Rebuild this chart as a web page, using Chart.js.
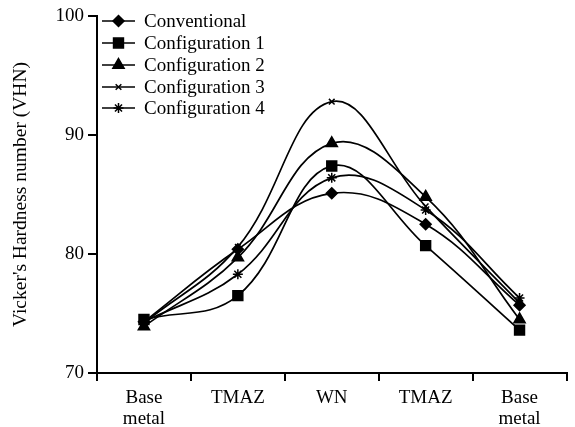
<!DOCTYPE html>
<html>
<head>
<meta charset="utf-8">
<script src="https://cdn.jsdelivr.net/npm/chart.js@4/dist/chart.umd.min.js"></script>
<style>
  html, body { margin: 0; padding: 0; background: #fff; }
  #wrap { width: 575px; height: 427px; position: relative; }
</style>
</head>
<body>
<div id="wrap"><canvas id="chart"></canvas></div>
<script>
const categories = [["Base", "metal"], "TMAZ", "WN", "TMAZ", ["Base", "metal"]];
const seriesNames = ["Conventional", "Configuration 1", "Configuration 2", "Configuration 3", "Configuration 4"];
const conventional = [74.3, 80.4, 85.1, 82.5, 75.7];
const config1 = [74.5, 76.5, 87.4, 80.7, 73.6];
const config2 = [73.9, 79.7, 89.3, 84.8, 74.5];
const config3 = [74.2, 80.6, 92.8, 84.0, 75.9];
const config4 = [74.3, 78.3, 86.4, 83.7, 76.3];
const yTicks = [70, 80, 90, 100];

const font = "'Liberation Serif', 'Times New Roman', serif";
const markers = [
  { pointStyle: "rectRot", radius: 5.5 },
  { pointStyle: "rect", radius: 7 },
  { pointStyle: "triangle", radius: 6.5 },
  { pointStyle: "crossRot", radius: 4 },
  { pointStyle: "star", radius: 5 }
];

const seriesData = [conventional, config1, config2, config3, config4];

const datasets = seriesData.map((values, i) => ({
  label: seriesNames[i],
  data: values,
  borderColor: "#000",
  backgroundColor: "#000",
  borderWidth: 1.7,
  pointStyle: markers[i].pointStyle,
  pointRadius: markers[i].radius,
  pointBorderWidth: 1.5,
  pointBackgroundColor: "#000",
  pointBorderColor: "#000",
  tension: 0.4,
  fill: false
}));

// legend drawn inside the plot, line + marker like the original
const insideLegend = {
  id: "insideLegend",
  afterDatasetsDraw(chart) {
    const ctx = chart.ctx;
    const rows = [21, 43, 65, 87, 108];
    ctx.save();
    ctx.font = "19px " + font;
    ctx.textBaseline = "middle";
    chart.data.datasets.forEach((ds, i) => {
      const y = rows[i];
      ctx.strokeStyle = "#000";
      ctx.lineWidth = 1.7;
      ctx.beginPath();
      ctx.moveTo(102, y);
      ctx.lineTo(135, y);
      ctx.stroke();
      ctx.fillStyle = "#000";
      ctx.lineWidth = 1.5;
      Chart.helpers.drawPoint(ctx, {
        pointStyle: ds.pointStyle,
        radius: ds.pointRadius,
        rotation: 0,
        borderWidth: 1.5
      }, 118.5, y);
      ctx.fillStyle = "#000";
      ctx.fillText(ds.label, 144, y + 1);
    });
    ctx.restore();
  }
};

Chart.defaults.font.family = font;
Chart.defaults.color = "#000";

new Chart(document.getElementById("chart"), {
  type: "line",
  data: { labels: categories, datasets: datasets },
  options: {
    responsive: true,
    maintainAspectRatio: false,
    animation: false,
    layout: { padding: { top: 16, right: 3, left: 0, bottom: 0 } },
    plugins: { legend: { display: false }, tooltip: { enabled: false } },
    scales: {
      x: {
        offset: true,
        grid: { offset: true, drawOnChartArea: false, drawTicks: true, tickLength: 8, color: "#000", lineWidth: 2 },
        border: { color: "#000", width: 2 },
        ticks: { font: { size: 19, lineHeight: 1.12 }, padding: 6, maxRotation: 0, autoSkip: false },
        afterFit(scale) { scale.height = 54; }
      },
      y: {
        min: 70,
        max: 100,
        afterBuildTicks(scale) { scale.ticks = yTicks.map(v => ({ value: v })); },
        grid: { drawOnChartArea: false, drawTicks: true, tickLength: 9, color: "#000", lineWidth: 2 },
        border: { color: "#000", width: 2 },
        ticks: { font: { size: 19 }, padding: 4 },
        title: { display: true, text: "Vicker's Hardness number (VHN)", font: { size: 19.5 }, padding: { top: 9, bottom: 6 } },
        afterFit(scale) { scale.width = 97; }
      }
    }
  },
  plugins: [insideLegend]
});
</script>
</body>
</html>
